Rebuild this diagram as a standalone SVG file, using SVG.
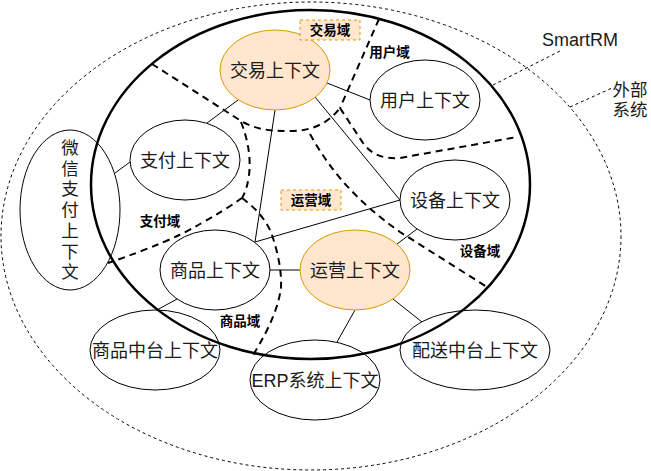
<svg xmlns="http://www.w3.org/2000/svg" width="651" height="471" viewBox="0 0 651 471">
<style>
.node{fill:#ffffff;stroke:#000000;stroke-width:1}
.ext{fill:none;stroke:#000000;stroke-width:1}
.hot{fill:#ffe6cc;stroke:#d79b00;stroke-width:1}
.t{font-family:"Noto Sans CJK SC","Liberation Sans",sans-serif;font-size:18px;fill:#1a1a1a;text-anchor:middle}
.tl{font-family:"Liberation Sans","Noto Sans CJK SC",sans-serif;font-size:18px;fill:#1a1a1a;text-anchor:middle}
.tv{font-family:"Liberation Sans","Noto Sans CJK SC",sans-serif;font-size:17.5px;fill:#1a1a1a;text-anchor:middle}
.lab{font-family:"Noto Sans CJK SC",sans-serif;font-size:13.5px;font-weight:bold;fill:#000000;text-anchor:middle}
.dom{fill:none;stroke:#000000;stroke-width:2;stroke-dasharray:7 5}
.edge{fill:none;stroke:#000000;stroke-width:1}
.lead{fill:none;stroke:#000000;stroke-width:1;stroke-dasharray:3 3}
.tag{fill:#ffe6cc;stroke:#d79b00;stroke-width:1;stroke-dasharray:3 3}
</style>
<rect x="0" y="0" width="651" height="471" fill="#ffffff"/>
<g id="external-boundary">
<ellipse cx="311" cy="236" rx="310" ry="234" class="lead"/>
</g>
<g id="smartrm-boundary">
<ellipse cx="310.5" cy="184.5" rx="219.5" ry="174.5" fill="none" stroke="#000000" stroke-width="2.5"/>
</g>
<g id="domain-boundaries">
<path class="dom" d="M152,64 L238,119 C255,130 270,131 290,131 C315,131 330,121 340,108"/>
<path class="dom" d="M379,19 L340,108"/>
<path class="dom" d="M340,108 L363,143 Q375,160 400,158 L517,137"/>
<path class="dom" d="M310,134 C330,170 355,200 400,232 L487,287"/>
<path class="dom" d="M241,122 Q252,150 249,175 Q247,190 242,198"/>
<path class="dom" d="M242,198 Q225,210 200,224 Q170,242 108,263"/>
<path class="dom" d="M242,198 Q265,215 272,235 Q282,265 281,287 Q278,315 253,355"/>
</g>
<g id="connectors">
<line class="edge" x1="238" y1="100" x2="207" y2="123"/>
<line class="edge" x1="275" y1="110" x2="255" y2="242"/>
<line class="edge" x1="327" y1="83" x2="370" y2="100"/>
<line class="edge" x1="315" y1="97" x2="400" y2="200"/>
<line class="edge" x1="130" y1="162" x2="115" y2="173"/>
<line class="edge" x1="255" y1="242" x2="400" y2="200"/>
<line class="edge" x1="270" y1="270" x2="300" y2="270"/>
<line class="edge" x1="397" y1="244" x2="417" y2="229"/>
<line class="edge" x1="355" y1="310" x2="337" y2="342"/>
<line class="edge" x1="393" y1="299" x2="422" y2="322"/>
<line class="edge" x1="177" y1="299" x2="157" y2="310"/>
<line class="lead" x1="493" y1="85" x2="562" y2="50"/>
<line class="lead" x1="570" y1="107" x2="612" y2="88"/>
</g>
<g id="node-jiaoyi">
<ellipse cx="275" cy="70" rx="55" ry="40" class="hot"/>
<text x="275" y="77" class="t">交易上下文</text>
</g>
<g id="node-yonghu">
<ellipse cx="425" cy="100" rx="55" ry="40" class="node"/>
<text x="425" y="107" class="t">用户上下文</text>
</g>
<g id="node-zhifu">
<ellipse cx="185" cy="160" rx="55" ry="40" class="node"/>
<text x="185" y="167" class="t">支付上下文</text>
</g>
<g id="node-shebei">
<ellipse cx="455" cy="200" rx="55" ry="40" class="node"/>
<text x="455" y="207" class="t">设备上下文</text>
</g>
<g id="node-yunying">
<ellipse cx="355" cy="270" rx="55" ry="40" class="hot"/>
<text x="355" y="277" class="t">运营上下文</text>
</g>
<g id="node-shangpin">
<ellipse cx="215" cy="270" rx="55" ry="40" class="node"/>
<text x="215" y="277" class="t">商品上下文</text>
</g>
<g id="node-shangpin-zhongtai">
<ellipse cx="155" cy="350" rx="65" ry="40" class="ext"/>
<text x="155" y="357" class="t">商品中台上下文</text>
</g>
<g id="node-erp">
<ellipse cx="315" cy="380" rx="65" ry="40" class="ext"/>
<text x="315" y="387" class="tl">ERP系统上下文</text>
</g>
<g id="node-peisong">
<ellipse cx="475" cy="350" rx="75" ry="40" class="ext"/>
<text x="475" y="357" class="t">配送中台上下文</text>
</g>
<g id="node-weixin">
<ellipse cx="70" cy="210" rx="50" ry="80" class="ext"/>
<text class="tv"><tspan x="70" y="154">微</tspan><tspan x="70" y="174.7">信</tspan><tspan x="70" y="195.4">支</tspan><tspan x="70" y="216.1">付</tspan><tspan x="70" y="236.8">上</tspan><tspan x="70" y="257.5">下</tspan><tspan x="70" y="278.2">文</tspan></text>
</g>
<g id="label-jiaoyiyu">
<rect x="300" y="20" width="60" height="20" class="tag"/>
<text x="330" y="35" class="lab">交易域</text>
</g>
<g id="label-yunyingyu">
<rect x="281" y="190" width="60" height="20" class="tag"/>
<text x="311" y="205" class="lab">运营域</text>
</g>
<g id="label-yonghuyu"><text x="389.5" y="56.5" class="lab">用户域</text></g>
<g id="label-zhifuyu"><text x="160" y="226" class="lab">支付域</text></g>
<g id="label-shangpinyu"><text x="240" y="326" class="lab">商品域</text></g>
<g id="label-shebeiyu"><text x="480" y="256" class="lab">设备域</text></g>
<g id="label-smartrm"><text x="580" y="46" class="tl">SmartRM</text></g>
<g id="label-waibu"><text class="tv"><tspan x="630" y="96">外部</tspan><tspan x="630" y="116">系统</tspan></text></g>
</svg>
